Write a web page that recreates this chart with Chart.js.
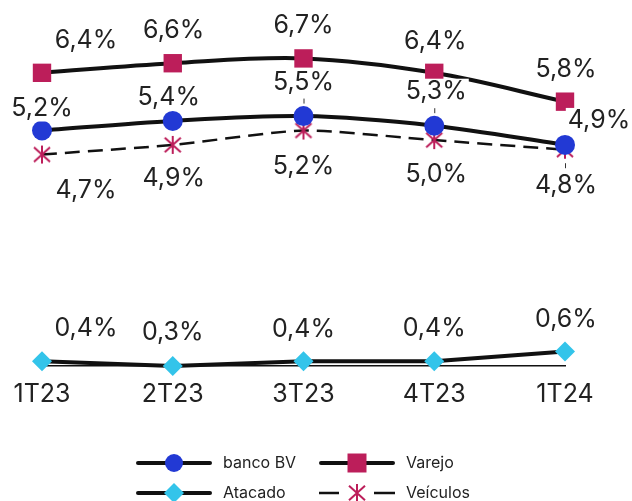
<!DOCTYPE html>
<html>
<head>
<meta charset="utf-8">
<script src="https://cdn.jsdelivr.net/npm/chart.js@4/dist/chart.umd.min.js"></script>
<style>
  html, body { margin: 0; padding: 0; background: #fff; }
  #wrap { width: 632px; height: 501px; }
</style>
</head>
<body>
<div id="wrap"><canvas id="npl" width="632" height="501"></canvas></div>
<script>
const categories = ["1T23", "2T23", "3T23", "4T23", "1T24"];
const bancoBV = [5.2, 5.4, 5.5, 5.3, 4.9];
const varejo = [6.4, 6.6, 6.7, 6.4, 5.8];
const atacado = [0.4, 0.3, 0.4, 0.4, 0.6];
const veiculos = [4.7, 4.9, 5.2, 5.0, 4.8];

const FONT = "Inter, 'DejaVu Sans', sans-serif";
const BLUE = "#2239d4";
const CRIMSON = "#bc1e5a";
const CYAN = "#33c4ea";
const INK = "#111111";
const TEXT = "#222222";

// label placement per dataset: [dx, dy] from the point
const labelOffsets = {
    "banco BV": [[0, -22], [-4, -23], [0, -34], [2, -34], [34, -24]],
    "Varejo": [[44, -32], [1, -33], [0, -33], [1, -31], [1, -32]],
    "Atacado": [[44, -33], [0, -34], [0, -32], [0, -33], [1, -32]],
    "Veículos": [[44, 36], [1, 34], [0, 36], [2, 34], [1, 36]],
};
const leaders = [["banco BV", 2], ["banco BV", 3], ["Veículos", 4]];

function fmt(v) {
    return v.toFixed(1).replace(".", ",") + "%";
}

// asterisk marker used by Veículos
function makeAsterisk(size) {
    const c = document.createElement("canvas");
    c.width = size;
    c.height = size;
    const g = c.getContext("2d");
    g.strokeStyle = CRIMSON;
    g.lineWidth = 2;
    const m = size / 2, a = size / 2 - 2;
    g.beginPath();
    g.moveTo(m - a, m - a * 0.9); g.lineTo(m + a, m + a * 0.9);
    g.moveTo(m + a, m - a * 0.9); g.lineTo(m - a, m + a * 0.9);
    g.moveTo(m, 1); g.lineTo(m, size - 1);
    g.stroke();
    return c;
}
const asterisk = makeAsterisk(20);

const valueLabels = {
    id: "valueLabels",
    afterDatasetsDraw(chart) {
        const ctx = chart.ctx;
        ctx.save();
        ctx.font = "25px " + FONT;
        ctx.textAlign = "center";
        ctx.textBaseline = "middle";
        chart.data.datasets.forEach((ds, di) => {
            const meta = chart.getDatasetMeta(di);
            meta.data.forEach((pt, i) => {
                const [dx, dy] = labelOffsets[ds.label][i];
                const txt = fmt(ds.data[i]);
                const w = ctx.measureText(txt).width;
                const x = pt.x + dx, y = pt.y + dy;
                ctx.fillStyle = "#fff";
                ctx.fillRect(x - w / 2 - 2, y - 13, w + 4, 26);
                ctx.fillStyle = TEXT;
                ctx.fillText(txt, x, y);
            });
        });
        ctx.strokeStyle = "#333";
        ctx.lineWidth = 1;
        leaders.forEach(([name, i]) => {
            const di = chart.data.datasets.findIndex((d) => d.label === name);
            const pt = chart.getDatasetMeta(di).data[i];
            const dy = labelOffsets[name][i][1];
            const mid = pt.y + dy / 2 + (dy < 0 ? 2 : -2);
            ctx.beginPath();
            ctx.moveTo(pt.x + 0.5, mid - 2.5);
            ctx.lineTo(pt.x + 0.5, mid + 2.5);
            ctx.stroke();
        });
        ctx.restore();
    },
};

const legendBox = {
    id: "legendBox",
    afterDraw(chart) {
        const ctx = chart.ctx;
        const items = [
            { name: "banco BV", x: 136, y: 463, kind: "circle" },
            { name: "Varejo", x: 319, y: 463, kind: "square" },
            { name: "Atacado", x: 136, y: 493, kind: "diamond" },
            { name: "Veículos", x: 319, y: 493, kind: "star" },
        ];
        ctx.save();
        items.forEach((it) => {
            const cx = it.x + 38;
            ctx.strokeStyle = INK;
            ctx.lineCap = "round";
            if (it.kind === "star") {
                ctx.lineWidth = 2.5;
                ctx.lineCap = "butt";
                ctx.beginPath();
                ctx.moveTo(it.x, it.y); ctx.lineTo(it.x + 20, it.y);
                ctx.moveTo(it.x + 55, it.y); ctx.lineTo(it.x + 76, it.y);
                ctx.stroke();
                ctx.drawImage(asterisk, cx - 10, it.y - 10);
            } else {
                ctx.lineWidth = 4;
                ctx.beginPath();
                ctx.moveTo(it.x + 2, it.y); ctx.lineTo(it.x + 74, it.y);
                ctx.stroke();
                ctx.beginPath();
                if (it.kind === "circle") {
                    ctx.fillStyle = BLUE;
                    ctx.arc(cx, it.y, 9, 0, Math.PI * 2);
                } else if (it.kind === "square") {
                    ctx.fillStyle = CRIMSON;
                    ctx.rect(cx - 9.5, it.y - 9.5, 19, 19);
                } else {
                    ctx.fillStyle = CYAN;
                    ctx.moveTo(cx, it.y - 10); ctx.lineTo(cx + 10, it.y);
                    ctx.lineTo(cx, it.y + 10); ctx.lineTo(cx - 10, it.y);
                    ctx.closePath();
                }
                ctx.fill();
            }
            ctx.fillStyle = TEXT;
            ctx.font = "16px " + FONT;
            ctx.textBaseline = "middle";
            ctx.textAlign = "left";
            ctx.fillText(it.name, it.x + 87, it.y);
        });
        ctx.restore();
    },
};

new Chart(document.getElementById("npl"), {
    type: "line",
    data: {
        labels: categories,
        datasets: [
            {
                label: "banco BV",
                data: bancoBV,
                borderColor: INK,
                borderWidth: 4,
                tension: 0.3,
                pointStyle: "circle",
                pointRadius: 10,
                pointBackgroundColor: BLUE,
                pointBorderColor: BLUE,
                pointBorderWidth: 0,
                clip: false,
            },
            {
                label: "Varejo",
                data: varejo,
                borderColor: INK,
                borderWidth: 4,
                tension: 0.35,
                pointStyle: "rect",
                pointRadius: 13,
                pointBackgroundColor: CRIMSON,
                pointBorderColor: CRIMSON,
                pointBorderWidth: 0,
                clip: false,
            },
            {
                label: "Atacado",
                data: atacado,
                borderColor: INK,
                borderWidth: 4,
                tension: 0,
                pointStyle: "rectRot",
                pointRadius: 10,
                pointBackgroundColor: CYAN,
                pointBorderColor: CYAN,
                pointBorderWidth: 0,
                clip: false,
            },
            {
                label: "Veículos",
                data: veiculos,
                borderColor: INK,
                borderWidth: 2.5,
                borderDash: [15, 8],
                tension: 0.2,
                pointStyle: asterisk,
                pointRadius: 10,
                clip: false,
            },
        ],
    },
    options: {
        responsive: false,
        animation: false,
        layout: { padding: { left: 42, right: 67, top: 44, bottom: 95 } },
        plugins: {
            legend: { display: false },
            tooltip: { enabled: false },
        },
        scales: {
            x: {
                offset: false,
                grid: { display: false },
                border: { display: true, color: INK, width: 1.5 },
                ticks: { color: TEXT, font: { family: FONT, size: 25 }, padding: 5 },
                afterFit: (s) => { s.height = 40; },
            },
            y: {
                display: false,
                min: 0.3,
                max: 7.0,
            },
        },
    },
    plugins: [valueLabels, legendBox],
});
</script>
</body>
</html>
